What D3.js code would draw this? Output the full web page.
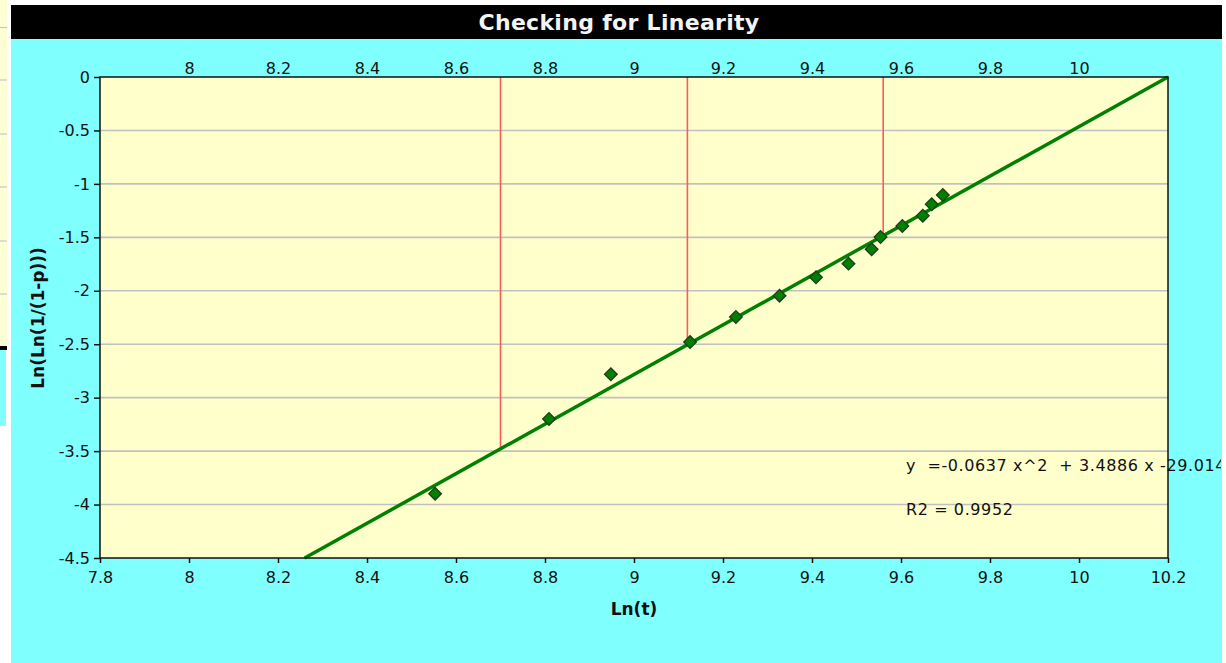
<!DOCTYPE html>
<html>
<head>
<meta charset="utf-8">
<script src="https://cdn.jsdelivr.net/npm/d3@7"></script>
<style>
  html, body { margin: 0; padding: 0; background: #ffffff; }
  svg { display: block; }
  text { font-family: "DejaVu Sans", sans-serif; }
</style>
</head>
<body>
<svg id="chart" width="1226" height="663"></svg>
<script>
// Weibull linearity check: ln(t) against ln(ln(1/(1-p)))
const lnT  = [8.553, 8.809, 8.948, 9.126, 9.229, 9.327, 9.409, 9.482, 9.534, 9.554, 9.603, 9.649, 9.669, 9.694];
const lnLn = [-3.898, -3.199, -2.780, -2.480, -2.245, -2.046, -1.874, -1.746, -1.612, -1.497, -1.394, -1.297, -1.191, -1.104];

// straight reference line (end points in data units)
const fitX = [8.26, 10.2];
const fitY = [-4.5, 0];

// vertical markers dropped from the top edge to the reference line
const dropX = [8.7, 9.12, 9.56];

const xTicks   = [7.8, 8, 8.2, 8.4, 8.6, 8.8, 9, 9.2, 9.4, 9.6, 9.8, 10, 10.2];
const xTopTicks = [8, 8.2, 8.4, 8.6, 8.8, 9, 9.2, 9.4, 9.6, 9.8, 10];
const yTicks   = [0, -0.5, -1, -1.5, -2, -2.5, -3, -3.5, -4, -4.5];

const titleText = "Checking for Linearity";
const xTitle = "Ln(t)";
const yTitle = "Ln(Ln(1/(1-p)))";
const eqLines = ["y  =-0.0637 x^2  + 3.4886 x -29.014", "R2 = 0.9952"];

const svg = d3.select("#chart");
const W = 1226, H = 663;
const plot = { left: 100, right: 1168, top: 77, bottom: 558 };

// ---- window backdrop pieces on the far left ----
svg.append("rect").attr("x", 0).attr("y", 0).attr("width", 7).attr("height", 347).attr("fill", "#ffffd6");
[27.5, 80, 134, 187, 241, 294].forEach(yy => {
  svg.append("line").attr("x1", 0).attr("x2", 7).attr("y1", yy).attr("y2", yy)
    .attr("stroke", "#c6c6c6").attr("stroke-width", 1.2);
});
svg.append("rect").attr("x", 0).attr("y", 346).attr("width", 7).attr("height", 4).attr("fill", "#000");
svg.append("rect").attr("x", 0).attr("y", 350).attr("width", 6).attr("height", 76).attr("fill", "#80ffff");

// ---- chart panel ----
svg.append("rect").attr("x", 11).attr("y", 39).attr("width", 1211).attr("height", H - 39).attr("fill", "#80ffff");
svg.append("rect").attr("x", 11).attr("y", 5).attr("width", 1211).attr("height", 34).attr("fill", "#000");
svg.append("text").attr("x", 619).attr("y", 30).attr("text-anchor", "middle")
  .attr("fill", "#f4f4f4").attr("font-weight", "bold").attr("font-size", 22)
  .attr("letter-spacing", 0.3)
  .text(titleText);

const x = d3.scaleLinear().domain([7.8, 10.2]).range([plot.left, plot.right]);
const y = d3.scaleLinear().domain([-4.5, 0]).range([plot.bottom, plot.top]);

svg.append("rect").attr("x", plot.left).attr("y", plot.top)
  .attr("width", plot.right - plot.left).attr("height", plot.bottom - plot.top)
  .attr("fill", "#ffffcc");

// horizontal gridlines
svg.append("g").selectAll("line")
  .data(yTicks.filter(d => d !== 0 && d !== -4.5))
  .join("line")
  .attr("x1", plot.left).attr("x2", plot.right)
  .attr("y1", d => y(d)).attr("y2", d => y(d))
  .attr("stroke", "#c0c0c0").attr("stroke-width", 1.6);

// drop lines down to the reference line
const fitAt = v => fitY[0] + (v - fitX[0]) * (fitY[1] - fitY[0]) / (fitX[1] - fitX[0]);
svg.append("g").selectAll("line")
  .data(dropX)
  .join("line")
  .attr("x1", d => x(d)).attr("x2", d => x(d))
  .attr("y1", y(0)).attr("y2", d => y(fitAt(d)))
  .attr("stroke", "#ff5a5a").attr("stroke-width", 1.6);

// reference line
svg.append("path")
  .datum(fitX.map((v, i) => [v, fitY[i]]))
  .attr("d", d3.line().x(d => x(d[0])).y(d => y(d[1])))
  .attr("stroke", "#008000").attr("stroke-width", 3.5).attr("fill", "none");

// data points as diamonds
const diamond = d3.symbol().type(d3.symbolSquare).size(80);
svg.append("g").selectAll("path")
  .data(lnT.map((v, i) => [v, lnLn[i]]))
  .join("path")
  .attr("d", diamond)
  .attr("transform", d => `translate(${x(d[0])},${y(d[1])}) rotate(45)`)
  .attr("fill", "#008000").attr("stroke", "#203a20").attr("stroke-width", 1.3);

// plot frame
svg.append("rect").attr("x", plot.left).attr("y", plot.top)
  .attr("width", plot.right - plot.left).attr("height", plot.bottom - plot.top)
  .attr("fill", "none").attr("stroke", "#111").attr("stroke-width", 1.5);

// ---- axes ----
const fmt = d => String(d);
const styleAxis = g => {
  g.select(".domain").remove();
  g.selectAll(".tick line").attr("stroke", "#111").attr("stroke-width", 1.5);
  g.selectAll(".tick text").attr("fill", "#111").attr("font-size", 16)
    .attr("font-family", "'DejaVu Sans', sans-serif");
};

svg.append("g").attr("transform", `translate(${plot.left},0)`)
  .call(d3.axisLeft(y).tickValues(yTicks).tickFormat(fmt).tickSize(6).tickPadding(4))
  .call(styleAxis);

svg.append("g").attr("transform", `translate(0,${plot.bottom})`)
  .call(d3.axisBottom(x).tickValues(xTicks).tickFormat(fmt).tickSize(5).tickPadding(9))
  .call(styleAxis);

svg.append("g").attr("transform", `translate(0,${plot.top})`)
  .call(d3.axisTop(x).tickValues(xTopTicks).tickFormat(fmt).tickSize(0).tickPadding(3))
  .call(styleAxis);

// axis titles
svg.append("text").attr("x", 634).attr("y", 615).attr("text-anchor", "middle")
  .attr("font-weight", "bold").attr("font-size", 17).attr("fill", "#111").text(xTitle);
svg.append("text").attr("transform", "translate(44,318) rotate(-90)").attr("text-anchor", "middle")
  .attr("font-weight", "bold").attr("font-size", 17).attr("fill", "#111").text(yTitle);

// ---- fit annotation (runs past the frame, cut at panel edge) ----
svg.append("clipPath").attr("id", "panelClip")
  .append("rect").attr("x", 11).attr("y", 39).attr("width", 1210).attr("height", H - 39);
const ann = svg.append("g").attr("clip-path", "url(#panelClip)");
ann.selectAll("text")
  .data(eqLines)
  .join("text")
  .attr("x", 906).attr("y", (d, i) => 471 + i * 44)
  .attr("font-size", 16).attr("letter-spacing", 0.6).attr("fill", "#111")
  .attr("xml:space", "preserve").style("white-space", "pre")
  .text(d => d);
</script>
</body>
</html>
